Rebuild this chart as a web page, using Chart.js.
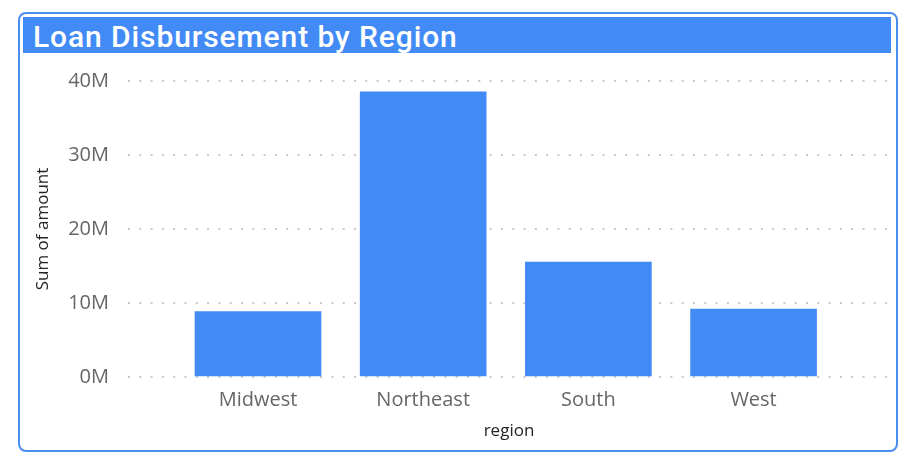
<!DOCTYPE html>
<html>
<head>
<meta charset="utf-8">
<script src="https://cdn.jsdelivr.net/npm/chart.js@4.4.0/dist/chart.umd.min.js"></script>
<style>
  html, body { margin: 0; padding: 0; background: #fff; width: 914px; height: 462px; overflow: hidden; }
  #frame { position: absolute; left: 18px; top: 12px; width: 876px; height: 436px; border: 2px solid #4A8DF3; border-radius: 8px; }
  #title { position: absolute; left: 23px; top: 17px; width: 868px; height: 36px; background: #428BF6; color: #fff;
           font-family: Roboto, "Noto Sans", sans-serif; font-weight: 500; font-size: 30px; letter-spacing: 0.9px; line-height: 39px; padding-left: 10px; box-sizing: border-box; white-space: nowrap; overflow: hidden; }
  #c { position: absolute; left: 0; top: 0; }
</style>
</head>
<body>
<div id="frame"></div>
<div id="title">Loan Disbursement by Region</div>
<canvas id="c" width="914" height="462"></canvas>
<script>
const categories = ['Midwest', 'Northeast', 'South', 'West'];
const amounts = [8.85e6, 38.54e6, 15.52e6, 9.18e6];
const yTicks = [0, 10e6, 20e6, 30e6, 40e6];
const yTickLabels = ['0M', '10M', '20M', '30M', '40M'];

const tickFont = { family: '"Open Sans", "Noto Sans", sans-serif', size: 20 };
const titleFont = { family: '"Open Sans", "Noto Sans", sans-serif', size: 17 };

new Chart(document.getElementById('c'), {
  type: 'bar',
  data: {
    datasets: [{
      data: categories.map((c, i) => ({ x: i, y: amounts[i] })),
      backgroundColor: '#428BF6',
      borderWidth: 0,
      barThickness: 126
    }]
  },
  options: {
    responsive: false,
    animation: false,
    devicePixelRatio: 1,
    layout: { padding: { left: 30, right: 24, top: 81, bottom: 12 } },
    plugins: { legend: { display: false }, tooltip: { enabled: false }, title: { display: false } },
    scales: {
      x: {
        type: 'linear',
        offset: false,
        min: -0.787,
        max: 3.826,
        grid: { display: false, drawTicks: false, offset: false },
        border: { display: false },
        afterBuildTicks: (s) => { s.ticks = categories.map((c, i) => ({ value: i })); },
        afterFit: (s) => { s.height = 73; },
        ticks: {
          autoSkip: false, maxRotation: 0, padding: 11,
          color: '#666666', font: tickFont,
          callback: (v) => categories[v]
        },
        title: { display: true, text: 'region', color: '#252423', font: titleFont, padding: { top: 0, bottom: 9 } }
      },
      y: {
        min: 0, max: 40e6,
        afterBuildTicks: (s) => { s.ticks = yTicks.map(v => ({ value: v })); },
        afterFit: (s) => { s.width = 98; },
        grid: { color: '#C8C8C8', lineWidth: 2, drawTicks: false },
        border: { display: false, dash: [2, 9.3] },
        ticks: {
          padding: 19, color: '#666666', font: tickFont,
          callback: (v) => yTickLabels[yTicks.indexOf(v)]
        },
        title: { display: true, text: 'Sum of amount', color: '#252423', font: titleFont, padding: { top: 3, bottom: 0 } }
      }
    }
  }
});
</script>
</body>
</html>
